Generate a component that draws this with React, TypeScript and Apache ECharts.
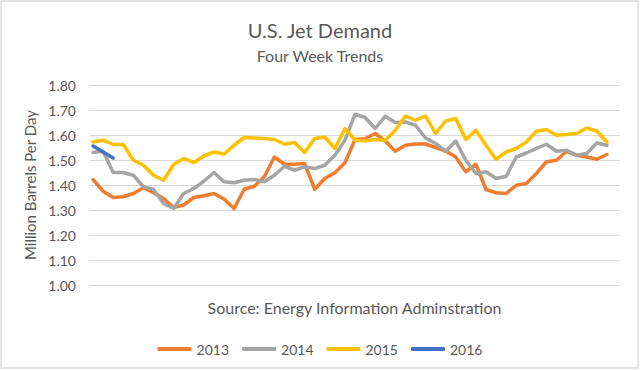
import React, { useEffect, useRef } from "react";
import * as echarts from "echarts";

const yearNames = ["2013", "2014", "2015", "2016"];
const yearColors = ["#ED7D31", "#A5A5A5", "#FFC000", "#4472C4"];

const y2013 = [1.422, 1.375, 1.350, 1.353, 1.366, 1.389, 1.369, 1.346, 1.310, 1.320, 1.350, 1.357, 1.366, 1.344, 1.306, 1.383, 1.395, 1.433, 1.512, 1.483, 1.483, 1.486, 1.383, 1.426, 1.449, 1.489, 1.582, 1.585, 1.606, 1.576, 1.535, 1.559, 1.564, 1.564, 1.550, 1.536, 1.512, 1.453, 1.483, 1.382, 1.369, 1.366, 1.399, 1.406, 1.446, 1.493, 1.499, 1.535, 1.519, 1.512, 1.503, 1.522];
const y2014 = [1.530, 1.535, 1.450, 1.450, 1.439, 1.393, 1.382, 1.326, 1.306, 1.366, 1.386, 1.415, 1.450, 1.413, 1.409, 1.419, 1.422, 1.413, 1.439, 1.475, 1.459, 1.473, 1.466, 1.479, 1.519, 1.579, 1.683, 1.670, 1.626, 1.675, 1.650, 1.652, 1.639, 1.588, 1.566, 1.535, 1.576, 1.499, 1.446, 1.453, 1.426, 1.435, 1.512, 1.528, 1.546, 1.563, 1.535, 1.539, 1.519, 1.526, 1.568, 1.559];
const y2015 = [1.572, 1.579, 1.562, 1.562, 1.499, 1.479, 1.439, 1.419, 1.482, 1.506, 1.490, 1.516, 1.532, 1.524, 1.559, 1.590, 1.588, 1.586, 1.582, 1.563, 1.570, 1.530, 1.586, 1.592, 1.546, 1.626, 1.579, 1.576, 1.582, 1.579, 1.619, 1.676, 1.659, 1.676, 1.606, 1.656, 1.666, 1.582, 1.619, 1.559, 1.503, 1.532, 1.546, 1.572, 1.615, 1.622, 1.599, 1.602, 1.606, 1.628, 1.616, 1.572];
const y2016 = [1.556, 1.532, 1.508];

const yearValues = [y2013, y2014, y2015, y2016];

const FONT = "Lato, 'Liberation Sans', sans-serif";
const TEXT = "#595959";

export default function App() {
  const ref = useRef<HTMLDivElement>(null);
  useEffect(() => {
    if (!ref.current) return;
    const chart = echarts.init(ref.current, undefined, { renderer: "svg" });
    chart.setOption({
      animation: false,
      backgroundColor: "#FFFFFF",
      textStyle: { fontFamily: FONT },
      title: [
        {
          text: "U.S. Jet Demand",
          left: "center",
          top: 15,
          textStyle: { fontFamily: FONT, fontSize: 20, fontWeight: "normal", color: TEXT },
        },
        {
          text: "Four Week Trends",
          left: "center",
          top: 42,
          textStyle: { fontFamily: FONT, fontSize: 16, fontWeight: "normal", color: TEXT },
        },
      ],
      graphic: [
        {
          type: "rect",
          shape: { x: 1, y: 1, width: 637, height: 367 },
          style: { fill: "none", stroke: "#D9D9D9", lineWidth: 1.3 },
          silent: true,
        },
      ],
      legend: {
        top: 337,
        left: "center",
        icon: "roundRect",
        itemWidth: 34,
        itemHeight: 4,
        itemGap: 13,
        textStyle: { fontFamily: FONT, fontSize: 14, color: TEXT },
        data: yearNames,
      },
      grid: { left: 89, right: 20, top: 85, bottom: 85, containLabel: false },
      xAxis: {
        type: "value",
        min: -0.4,
        max: 52.3,
        name: "Source: Energy Information Adminstration",
        nameLocation: "middle",
        nameGap: 14,
        nameTextStyle: { fontFamily: FONT, fontSize: 16, color: TEXT },
        axisLine: { show: false },
        axisTick: { show: false },
        axisLabel: { show: false },
        splitLine: { show: false },
      },
      yAxis: {
        type: "value",
        min: 1,
        max: 1.8,
        interval: 0.1,
        name: "Million Barrels Per Day",
        nameLocation: "middle",
        nameRotate: 90,
        nameGap: 50,
        nameTextStyle: { fontFamily: FONT, fontSize: 15, color: TEXT },
        axisLine: { show: false },
        axisTick: { show: false },
        axisLabel: {
          fontFamily: FONT,
          fontSize: 14,
          color: TEXT,
          margin: 13,
          formatter: (v: number) => v.toFixed(2),
        },
        splitLine: { lineStyle: { color: "#D9D9D9", width: 1 } },
      },
      series: yearNames.map((name, k) => ({
        name,
        type: "line",
        data: yearValues[k].map((v, i) => [i, v]),
        showSymbol: false,
        symbol: "none",
        color: yearColors[k],
        lineStyle: { color: yearColors[k], width: 3.5, cap: "round", join: "round" },
        emphasis: { disabled: true },
      })),
    });
    return () => chart.dispose();
  }, []);
  return (
    <div
      ref={ref}
      style={{ position: "fixed", left: 0, top: 0, width: 640, height: 370 }}
    />
  );
}
